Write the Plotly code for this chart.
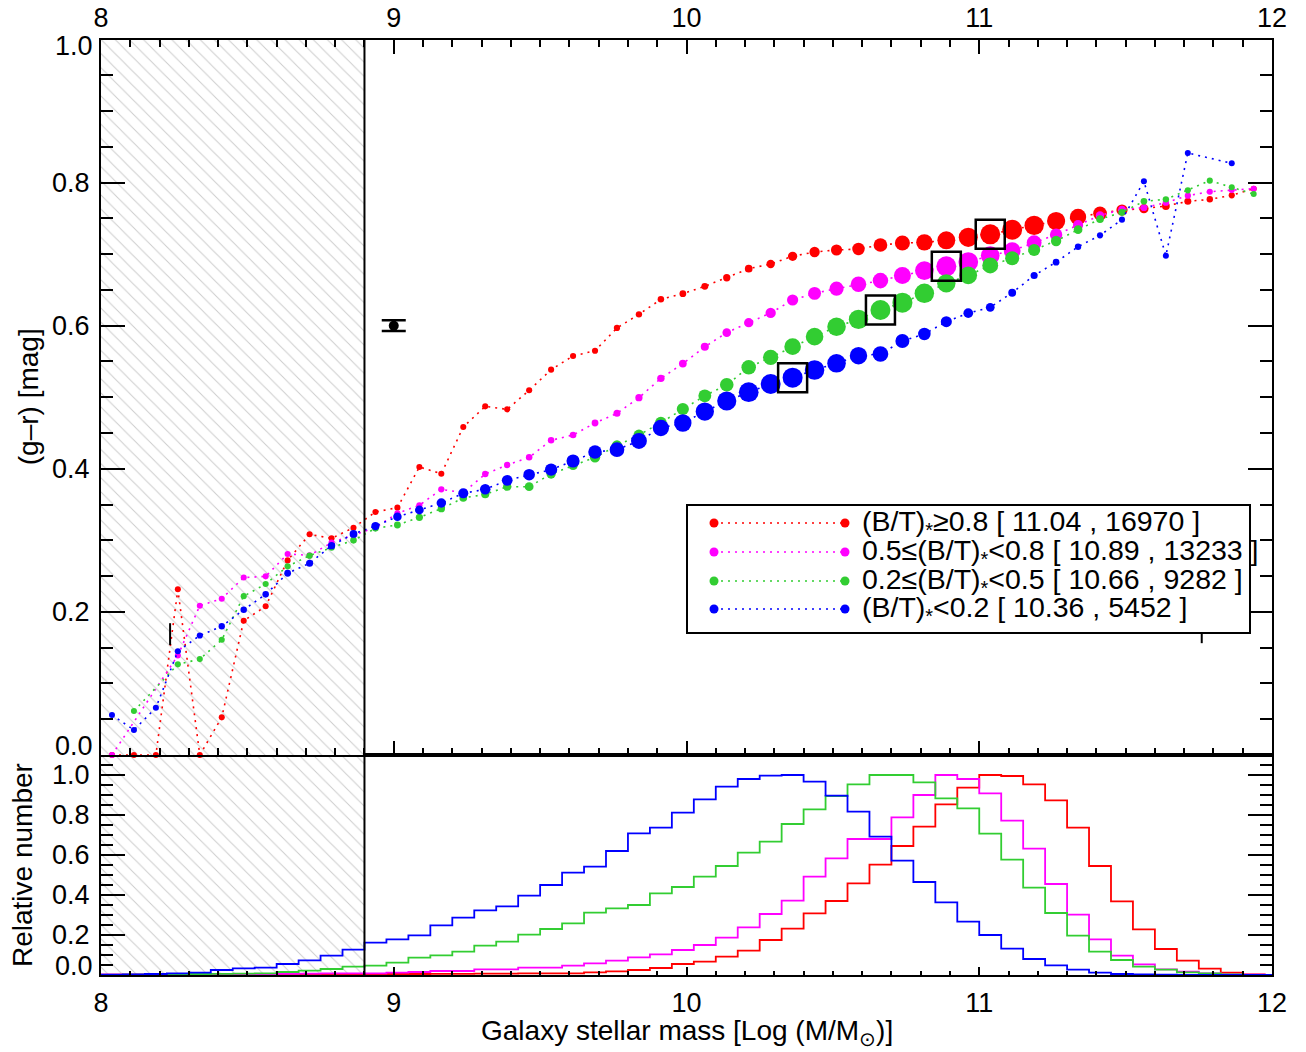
import numpy as np
import plotly.graph_objects as go

# ---------------------------------------------------------------- data
BIN_WIDTH = 0.075
MASS_MIN, MASS_MAX = 8.0, 12.0
MASS_LIMIT = 8.9          # completeness limit (hatched below)

# (g-r) colour per mass bin, one value per bin of width 0.075 starting at 8.0
colour_bt_high = [0.0, 0.0, 0.0, 0.2315, 0.0, 0.0526, 0.1877, 0.2078, 0.272, 0.3084,
                  0.3028, 0.3177, 0.3396, 0.3457, 0.4025, 0.3932, 0.4584, 0.4873, 0.4831, 0.5097,
                  0.5386, 0.5577, 0.565, 0.5968, 0.6159, 0.6368, 0.6448, 0.655, 0.667, 0.6797,
                  0.6862, 0.697, 0.703, 0.7058, 0.7072, 0.7128, 0.7156, 0.7165, 0.7193, 0.7235,
                  0.7277, 0.7342, 0.7402, 0.7463, 0.752, 0.757, 0.7617, 0.7636, 0.7673, 0.7738,
                  0.7766, 0.7822, 0.7915]
colour_bt_midhigh = [0.0, None, None, 0.139, 0.2087, 0.2185, 0.248, 0.2497, 0.281, 0.279,
                     0.2968, 0.307, 0.318, 0.3378, 0.349, 0.3713, 0.3666, 0.3927, 0.4053, 0.416,
                     0.4398, 0.4472, 0.464, 0.4775, 0.4994, 0.5264, 0.547, 0.5705, 0.5903, 0.6042,
                     0.6178, 0.6359, 0.6452, 0.6518, 0.6578, 0.663, 0.6702, 0.677, 0.683, 0.689,
                     0.6981, 0.7049, 0.716, 0.7272, 0.7407, 0.754, 0.7626, 0.765, 0.772, 0.7817,
                     0.7873, 0.7897, 0.7915]
colour_bt_midlow = [None, 0.0615, None, 0.1267, 0.134, 0.161, 0.222, 0.239, 0.2637, 0.2786,
                    0.29, 0.30, 0.3168, 0.3215, 0.3322, 0.3443, 0.3592, 0.3643, 0.375, 0.375,
                    0.3927, 0.4049, 0.416, 0.4323, 0.4472, 0.4645, 0.4836, 0.502, 0.5174, 0.5418,
                    0.5558, 0.5707, 0.5847, 0.5986, 0.6089, 0.622, 0.6322, 0.6452, 0.6592, 0.6704,
                    0.6842, 0.6942, 0.7058, 0.7184, 0.7342, 0.7489, 0.7584, 0.7738, 0.7766, 0.7892,
                    0.8027, 0.7934, 0.7841]
colour_bt_low = [0.0559, 0.035, 0.066, 0.145, 0.167, 0.18, 0.203, 0.2245, 0.254, 0.268,
                 0.2926, 0.309, 0.32, 0.3331, 0.3424, 0.3522, 0.3657, 0.3713, 0.3839, 0.3918,
                 0.3988, 0.4109, 0.4235, 0.4267, 0.4389, 0.457, 0.464, 0.48, 0.4948, 0.5071,
                 0.5185, 0.5274, 0.5381, 0.5474, 0.5581, 0.5604, 0.5786, 0.5884, 0.6056, 0.6175,
                 0.6257, 0.6461, 0.6702, 0.6888, 0.7104, 0.7263, 0.7482, 0.8018, 0.6979, 0.8414,
                 None, 0.8269, None]

# relative number of galaxies per mass bin
hist_bt_high = [0.002, 0.002, 0.002, 0.002, 0.002, 0.003, 0.003, 0.003, 0.003, 0.004,
                0.004, 0.004, 0.005, 0.005, 0.005, 0.006, 0.006, 0.007, 0.007, 0.0083,
                0.0083, 0.0083, 0.0133, 0.0183, 0.025, 0.035, 0.055, 0.0667, 0.0917, 0.1217,
                0.175, 0.2317, 0.3083, 0.37, 0.4583, 0.5517, 0.645, 0.7417, 0.8533, 0.9367,
                1.0, 0.995, 0.9533, 0.8733, 0.7367, 0.545, 0.3683, 0.2283, 0.13, 0.0717,
                0.0317, 0.0117, 0.003]
hist_bt_midhigh = [0.002, 0.002, 0.002, 0.002, 0.002, 0.004, 0.005, 0.005, 0.006, 0.007,
                   0.008, 0.0083, 0.0083, 0.012, 0.015, 0.02, 0.02, 0.0283, 0.0283, 0.0367,
                   0.0367, 0.0467, 0.0583, 0.0717, 0.0883, 0.1033, 0.125, 0.15, 0.1867, 0.2383,
                   0.305, 0.3717, 0.4917, 0.5833, 0.68, 0.68, 0.7883, 0.9, 1.0, 0.98,
                   0.9083, 0.7717, 0.6317, 0.455, 0.3017, 0.1783, 0.0967, 0.0533, 0.0283, 0.0167,
                   0.0083, 0.003, 0.002]
hist_bt_midlow = [0.001, 0.002, 0.003, 0.004, 0.005, 0.006, 0.007, 0.0083, 0.015, 0.0217,
                  0.03, 0.0417, 0.0467, 0.0617, 0.0867, 0.0983, 0.1167, 0.1467, 0.1667, 0.2017,
                  0.23, 0.2583, 0.3117, 0.3333, 0.35, 0.4083, 0.44, 0.4917, 0.545, 0.6117,
                  0.6667, 0.755, 0.8283, 0.895, 0.9533, 1.0, 1.0, 0.9633, 0.8833, 0.8333,
                  0.7067, 0.5767, 0.4367, 0.31, 0.1967, 0.1167, 0.075, 0.0417, 0.0267, 0.0133,
                  0.0083, 0.003, 0.001]
hist_bt_low = [0.002, 0.003, 0.005, 0.008, 0.0117, 0.025, 0.0333, 0.0367, 0.055, 0.0733,
               0.0967, 0.1267, 0.1617, 0.178, 0.198, 0.248, 0.2867, 0.323, 0.3433, 0.3967,
               0.45, 0.5117, 0.5417, 0.62, 0.7083, 0.7367, 0.8117, 0.8783, 0.9417, 0.98,
               0.9967, 1.0, 0.9667, 0.8967, 0.8167, 0.6917, 0.5717, 0.465, 0.3633, 0.2667,
               0.2, 0.1317, 0.08, 0.0483, 0.0267, 0.0117, 0.005, 0.003, 0.002, 0.001,
               0.001, 0.0, 0.0]

series_labels = ["(B/T)<sub>*</sub>≥0.8 [ 11.04 , 16970 ]",
                 "0.5≤(B/T)<sub>*</sub><0.8 [ 10.89 , 13233 ]",
                 "0.2≤(B/T)<sub>*</sub><0.5 [ 10.66 , 9282 ]",
                 "(B/T)<sub>*</sub><0.2 [ 10.36 , 5452 ]"]
median_mass = [11.04, 10.89, 10.66, 10.36]
series_colours = ["#ff0000", "#ff00ff", "#32cd32", "#0000ff"]

# typical colour uncertainty shown as a reference point
ref_x, ref_y, ref_err = [9.0], [0.6], [0.0075]
# isolated error ticks
tick_x, tick_y, tick_err = [8.236, 11.76], [0.169, 0.171], [0.0152, 0.0147]

colours = [colour_bt_high, colour_bt_midhigh, colour_bt_midlow, colour_bt_low]
hists = [hist_bt_high, hist_bt_midhigh, hist_bt_midlow, hist_bt_low]

# ---------------------------------------------------------------- geometry
W, H = 1306, 1052
X0, X1 = 101, 1272            # plot frame, pixels
TOP0, TOP1 = 39.5, 755        # upper (colour) panel
BOT0, BOT1 = 755, 975         # lower (histogram) panel


def px(v):
    return v / W


def py(v):
    return 1 - v / H


FONT = "Liberation Sans, Arial, Helvetica, sans-serif"
FS = 27
FS_TITLE = 28
FS_LEGEND = 28.5
DOT = "2px,5px"

n_bins = len(colour_bt_high)
centres = MASS_MIN + BIN_WIDTH * (np.arange(n_bins) + 0.5)
edges = MASS_MIN + BIN_WIDTH * np.arange(n_bins + 1)
edges = np.append(edges, MASS_MAX)

# subplot "x/y"  : histogram panel (drawn first)
# subplot "x2/y2": colour panel (drawn on top, so its markers may overlap the frame)
fig = go.Figure()

HATCH = dict(shape="\\", size=10, solidity=0.1, fgcolor="#9a9a9a", bgcolor="white")

# hatched region below the mass limit, both panels
for xa, ya, ytop in (("x", "y", 1.1), ("x2", "y2", 1.0)):
    fig.add_trace(go.Scatter(
        x=[MASS_MIN, MASS_LIMIT, MASS_LIMIT, MASS_MIN, MASS_MIN],
        y=[0, 0, ytop, ytop, 0], xaxis=xa, yaxis=ya,
        mode="lines", fill="toself", line=dict(width=0),
        fillcolor="rgba(0,0,0,0)", fillpattern=HATCH,
        hoverinfo="skip", showlegend=False))

# mass distributions
for hist, c in zip(hists, series_colours):
    fig.add_trace(go.Scatter(
        x=edges, y=list(hist) + [0.0, 0.0], mode="lines",
        line=dict(color=c, width=1.8, shape="hv"),
        xaxis="x", yaxis="y", showlegend=False))

# colour-mass relations, marker size follows the relative number
for col, hist, c in zip(colours, hists, series_colours):
    sizes = [6 + 14 * h for h in hist]
    fig.add_trace(go.Scatter(
        x=centres, y=col, mode="lines+markers", connectgaps=True, cliponaxis=False,
        line=dict(color=c, width=1.6, dash=DOT),
        marker=dict(color=c, size=sizes, opacity=1, line=dict(width=0)),
        xaxis="x2", yaxis="y2", showlegend=False))

# box around the bin holding the median mass
for col, med, c in zip(colours, median_mass, series_colours):
    i = int(round((med - centres[0]) / BIN_WIDTH))
    fig.add_trace(go.Scatter(
        x=[centres[i]], y=[col[i]], mode="markers",
        marker=dict(symbol="square-open", size=29, color="black", opacity=1,
                    line=dict(width=2.5, color="black")),
        xaxis="x2", yaxis="y2", showlegend=False))

# reference uncertainty
fig.add_trace(go.Scatter(
    x=ref_x, y=ref_y, mode="markers",
    marker=dict(color="black", size=10, opacity=1),
    error_y=dict(type="data", array=ref_err, width=12, thickness=2.5, color="black"),
    xaxis="x2", yaxis="y2", showlegend=False))
fig.add_trace(go.Scatter(
    x=tick_x, y=tick_y, mode="markers", marker=dict(size=0.1, color="black"),
    error_y=dict(type="data", array=tick_err, width=0, thickness=2, color="black"),
    xaxis="x2", yaxis="y2", showlegend=False))

# legend drawn inside a framed box
LX0, LX1, LY0, LY1 = 687, 1250, 505, 633
row_y = [523, 552, 581, 609]
for lab, c, ry in zip(series_labels, series_colours, row_y):
    fig.add_trace(go.Scatter(
        x=[714 - LX0, 845 - LX0], y=[LY1 - ry, LY1 - ry], mode="lines+markers",
        line=dict(color=c, width=1.6, dash=DOT),
        marker=dict(color=c, size=9, opacity=1),
        xaxis="x3", yaxis="y3", showlegend=False, hoverinfo="skip"))

annotations = []
for lab, ry in zip(series_labels, row_y):
    annotations.append(dict(
        x=860 - LX0, y=LY1 - ry, xref="x3", yref="y3", text=lab,
        showarrow=False, xanchor="left", yanchor="middle",
        font=dict(family=FONT, size=FS_LEGEND, color="black")))

# y tick labels at the panel ends sit slightly inside the frame
for txt, yv, yr, shift in (("1.0", 1.0, "y2", -6.5), ("0.0", 0.0, "y2", 9),
                           ("0.0", 0.0, "y", 9)):
    annotations.append(dict(
        x=px(X0), y=yv, xref="paper", yref=yr, text=txt, showarrow=False,
        xanchor="right", yanchor="middle", xshift=-6, yshift=shift,
        font=dict(family=FONT, size=FS, color="black")))

annotations += [
    dict(x=px(28), y=py((TOP0 + TOP1) / 2), xref="paper", yref="paper",
         text="(g–r) [mag]", textangle=-90, showarrow=False,
         xanchor="center", yanchor="middle",
         font=dict(family=FONT, size=FS_TITLE, color="black")),
    dict(x=px(22), y=py((BOT0 + BOT1) / 2), xref="paper", yref="paper",
         text="Relative number", textangle=-90, showarrow=False,
         xanchor="center", yanchor="middle",
         font=dict(family=FONT, size=FS_TITLE, color="black")),
    dict(x=px((X0 + X1) / 2), y=py(1032), xref="paper", yref="paper",
         text="Galaxy stellar mass [Log (M/M<sub>⊙</sub>)]", showarrow=False,
         xanchor="center", yanchor="middle",
         font=dict(family=FONT, size=FS_TITLE, color="black")),
]

shapes = [
    dict(type="line", xref="x", yref="y domain", x0=MASS_LIMIT, x1=MASS_LIMIT, y0=0, y1=1,
         line=dict(color="black", width=2)),
    dict(type="line", xref="x2", yref="y2 domain", x0=MASS_LIMIT, x1=MASS_LIMIT, y0=0, y1=1,
         line=dict(color="black", width=2)),
    dict(type="rect", xref="paper", yref="paper", x0=px(LX0), x1=px(LX1), y0=py(LY1), y1=py(LY0),
         line=dict(color="black", width=2), fillcolor="rgba(0,0,0,0)"),
]

tickfont = dict(family=FONT, size=FS, color="black")
common = dict(showgrid=False, zeroline=False, showline=True, linecolor="black", linewidth=2,
              ticks="inside", tickcolor="black", tickwidth=2, tickfont=tickfont,
              automargin=False)
minor_y = dict(dtick=0.05, ticklen=12, ticks="inside", tickcolor="black", tickwidth=1.5)

fig.update_layout(
    width=W, height=H, margin=dict(l=0, r=0, t=0, b=0, autoexpand=False),
    paper_bgcolor="white", plot_bgcolor="white", showlegend=False,
    # histogram panel
    xaxis=dict(domain=[px(X0), px(X1)], range=[MASS_MIN, MASS_MAX], anchor="y", side="bottom",
               dtick=1, ticklen=8, mirror=True, ticklabelstandoff=3,
               minor=dict(dtick=0.1, ticklen=4, ticks="inside", tickcolor="black", tickwidth=1.5),
               **common),
    yaxis=dict(domain=[py(BOT1), py(BOT0)], range=[0, 1.1], anchor="x",
               tickvals=[0, 0.2, 0.4, 0.6, 0.8, 1.0],
               ticktext=["", "0.2", "0.4", "0.6", "0.8", "1.0"],
               ticklen=24, mirror="ticks", ticklabelstandoff=4, minor=minor_y, **common),
    # colour panel
    xaxis2=dict(domain=[px(X0), px(X1)], range=[MASS_MIN, MASS_MAX], anchor="y2", side="top",
                dtick=1, ticklen=14, mirror="ticks", ticklabelstandoff=0,
                minor=dict(dtick=0.1, ticklen=7, ticks="inside", tickcolor="black", tickwidth=1.5),
                **common),
    yaxis2=dict(domain=[py(TOP1), py(TOP0)], range=[0, 1], anchor="x2",
                tickvals=[0, 0.2, 0.4, 0.6, 0.8, 1.0],
                ticktext=["", "0.2", "0.4", "0.6", "0.8", ""],
                ticklen=24, mirror="ticks", ticklabelstandoff=4, minor=minor_y, **common),
    xaxis3=dict(domain=[px(LX0), px(LX1)], range=[0, LX1 - LX0], anchor="y3", visible=False),
    yaxis3=dict(domain=[py(LY1), py(LY0)], range=[0, LY1 - LY0], anchor="x3", visible=False),
    annotations=annotations, shapes=shapes,
)

fig.write_html("out.html")
